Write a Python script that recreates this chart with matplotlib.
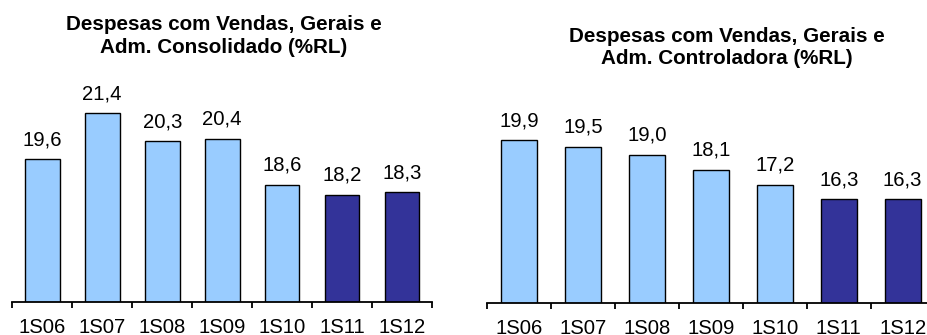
import matplotlib
matplotlib.use('Agg')
import matplotlib.pyplot as plt
import numpy as np

categories = ['1S06', '1S07', '1S08', '1S09', '1S10', '1S11', '1S12']
consolidado = [19.6, 21.4, 20.3, 20.4, 18.6, 18.2, 18.3]
controladora = [19.9, 19.5, 19.0, 18.1, 17.2, 16.3, 16.3]
title_left = ['Despesas com Vendas, Gerais e', 'Adm. Consolidado (%RL)']
title_right = ['Despesas com Vendas, Gerais e', 'Adm. Controladora (%RL)']

light = '#99CCFF'
dark = '#333399'
colors = [light] * 5 + [dark] * 2

plt.rcParams['font.family'] = ['Liberation Sans', 'DejaVu Sans']

W, H = 927, 335
fig = plt.figure(figsize=(W / 100, H / 100), dpi=100)
FS = 14.6


def px_axes(x0, x1, ybot, height):
    return fig.add_axes([x0 / W, (H - ybot) / H, (x1 - x0) / W, height / H])


def draw(ax, values, ymin, ppu, height_px, bar_w):
    x = np.arange(len(values))
    ax.bar(x, values, width=bar_w, color=colors, edgecolor='black', linewidth=1.0)
    ax.set_xlim(-0.5, len(values) - 0.5)
    ax.set_ylim(ymin, ymin + height_px / ppu)
    for s in ['top', 'left', 'right']:
        ax.spines[s].set_visible(False)
    ax.spines['bottom'].set_linewidth(1.3)
    ax.set_yticks([])
    ax.set_xticks(x)
    ax.set_xticklabels(categories, fontsize=FS)
    ax.tick_params(axis='x', which='major', length=0, pad=11.5)
    ax.set_xticks(np.arange(len(values) + 1) - 0.5, minor=True)
    ax.tick_params(axis='x', which='minor', length=4, width=1.3, direction='out')
    ax.patch.set_visible(False)
    for xi, v in zip(x, values):
        ax.annotate(f'{v:.1f}'.replace('.', ','), (xi, v), xytext=(0, 10.2),
                    textcoords='offset points', ha='center', va='baseline',
                    fontsize=FS)


axL = px_axes(12.3, 432, 302, 210)
draw(axL, consolidado, 14, 25.5, 210, 0.58)

axR = px_axes(487.3, 934.6, 302.7, 210)
draw(axR, controladora, 10, 16.4, 210, 0.56)


def title(lines, cx, ys):
    for t, y in zip(lines, ys):
        fig.text(cx / W, (H - y) / H, t, ha='center', va='baseline',
                 fontsize=14.9, fontweight='bold')


title(title_left, 224, [30, 53])
title(title_right, 727, [41.7, 64])

fig.savefig('out.png', dpi=100)
